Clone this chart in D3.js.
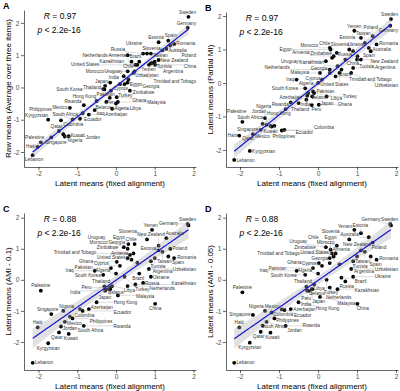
<!DOCTYPE html>
<html>
<head>
<meta charset="utf-8">
<script src="https://cdnjs.cloudflare.com/ajax/libs/d3/7.8.5/d3.min.js"></script>
<style>
body { margin: 0; background: #fff; }
svg { font-family: Arial, "Liberation Sans", sans-serif; }
</style>
</head>
<body>
<svg id="chart" width="400" height="391"></svg>
<script>
// ---------------------------------------------
// data: one entry per country
// ---------------------------------------------
var countries = ["Lebanon","Haiti","Palestine","Kyrgyzstan","Singapore","Qatar","South Africa","Nigeria","Jordan","Kuwait",
  "Mexico","Philippines","Colombia","Ecuador","Rwanda","Azerbaijan","Iraq","Hong Kong","South Korea","Thailand",
  "India","Belarus","Peru","Japan","Pakistan","Libya","Ghana","Algeria","Malaysia","Netherlands",
  "Cyprus","Uruguay","Turkey","Georgia","Egypt","Morocco","Zimbabwe","Armenia","Chile","Trinidad and Tobago",
  "Kazakhstan","United States","Brazil","Russia","Uzbekistan","Slovenia","Ukraine","Argentina","Yemen","Tunisia",
  "China","Estonia","New Zealand","Taiwan","Australia","Spain","Poland","Romania","Germany","Sweden"];

var fixedMeans = [-2.15,-2.02,-1.94,-1.75,-1.67,-1.47,-1.42,-1.36,-1.32,-1.22,
  -1.19,-1.12,-0.93,-0.86,-0.83,-0.70,-0.55,-0.50,-0.33,-0.30,
  -0.28,-0.25,-0.16,-0.15,-0.13,-0.10,0.02,0.00,0.05,0.30,
  0.10,0.20,0.22,0.30,0.32,0.30,0.36,0.40,0.48,0.45,
  0.50,0.55,0.60,0.70,0.85,0.80,0.90,0.90,0.93,1.00,
  1.01,1.10,1.10,1.20,1.30,1.35,1.40,1.50,1.85,1.87];

var rawMeans = [-2.10,-1.84,-1.70,-1.00,-1.55,-1.35,-1.02,-1.45,-1.52,-1.51,
  -0.63,-0.99,-0.97,-0.80,-0.55,-0.84,-0.70,-0.42,-0.05,-0.06,
  0.05,-0.45,-0.32,0.15,-0.10,-0.66,-0.30,-0.50,-0.45,1.00,
  0.10,0.35,0.10,0.15,0.25,0.50,-0.10,0.80,0.50,0.45,
  0.70,0.70,0.80,1.05,0.70,1.05,1.05,0.75,0.75,0.80,
  0.70,1.40,0.85,1.15,1.20,1.45,1.30,1.35,1.85,2.19];

var partialMI = [-2.30,-1.57,-1.16,-2.03,-1.53,-1.40,-1.22,-1.05,-1.25,-1.28,
  -1.30,-1.28,-1.42,-1.40,-0.78,-0.58,0.10,-0.60,-0.16,-0.50,
  -0.38,-0.30,-0.66,-0.40,-0.25,-0.30,-0.65,0.00,0.30,0.40,
  0.10,0.65,-0.40,0.30,1.00,1.05,0.75,0.80,0.90,0.20,
  0.50,0.30,0.40,0.70,0.30,1.00,0.95,0.45,1.56,0.70,
  0.80,1.35,0.70,1.20,1.05,0.95,1.40,1.15,1.71,1.91];

var ami10 = [-2.67,-1.53,-0.35,-2.04,-1.10,-1.69,-1.50,-1.00,-1.35,-1.74,
  -1.18,-1.24,-0.94,-1.00,-1.48,-0.94,0.29,-0.72,0.16,-0.21,
  -0.35,-0.30,-0.25,-0.30,0.38,-0.20,0.58,0.20,-0.50,-0.20,
  0.45,1.05,0.10,1.00,1.15,0.70,0.80,0.65,1.15,0.85,
  -0.15,0.55,0.20,-0.10,0.35,1.30,0.10,0.60,1.61,0.70,
  -0.77,0.95,1.10,0.90,1.34,0.75,1.00,0.70,1.80,1.75];

var ami05 = [-2.67,-1.53,-0.40,-2.02,-1.13,-1.67,-1.47,-1.00,-1.35,-1.70,
  -1.05,-1.24,-0.95,-0.97,-1.48,-0.94,0.29,-0.72,0.16,-0.22,
  -0.35,-0.35,-0.30,-0.30,0.38,-0.15,0.54,0.20,-0.55,-0.25,
  0.45,1.05,0.00,0.54,0.97,0.70,0.85,0.75,1.10,0.85,
  -0.30,0.50,0.07,-0.05,0.35,1.30,0.10,0.60,1.61,0.75,
  -0.77,1.50,0.95,0.90,1.37,0.75,1.20,0.65,1.80,1.75];

var panelLetters = ["A","B","C","D"];
var yTitles = ["Raw means (Average over three items)","Latent means (Partial MI)","Latent means (AMI - 0.1)","Latent means (AMI - 0.05)"];
var rValues = ["0.97","0.97","0.88","0.88"];
var pText = "< 2.2e-16";
var tickValues = [-2,-1,0,1,2];
var xTitle = "Latent means (fixed alignment)";

// ---------------------------------------------
// layout of the four panels
// ---------------------------------------------
var panels = [
  {y: rawMeans,  left: 24,  right: 196, top: 10,  bottom: 167, xdom: [-2.374, 2.065], ydom: [-2.465, 2.40]},
  {y: partialMI, left: 226, right: 398, top: 12,  bottom: 167, xdom: [-2.36, 2.05],   ydom: [-2.51, 2.12]},
  {y: ami10,     left: 24,  right: 196, top: 213, bottom: 370, xdom: [-2.374, 2.065], ydom: [-2.9, 2.15]},
  {y: ami05,     left: 226, right: 398, top: 213, bottom: 370, xdom: [-2.36, 2.05],   ydom: [-2.9, 2.15]}
];

var svg = d3.select("#chart");
var labelSize = 4.7;

function clamp(v, a, b) { return Math.max(a, Math.min(b, v)); }

// ggrepel-like layout: boxes push each other apart, springs pull back to the point
function repel(labs, obst, b) {
  var n = labs.length, it, i, j;
  for (it = 0; it < 1500; it++) {
    var pull = it < 1000 ? 0.004 : 0.002;
    labs.forEach(function(a) { a.fx = (a.px - a.x) * pull; a.fy = (a.py - a.y) * pull; });
    for (i = 0; i < n; i++) {
      var a = labs[i];
      for (j = i + 1; j < n; j++) {
        var c = labs[j];
        var dx = c.x - a.x, dy = c.y - a.y;
        var ox = (a.w + c.w) / 2 + 1 - Math.abs(dx);
        var oy = (a.h + c.h) / 2 + 0.6 - Math.abs(dy);
        if (ox > 0 && oy > 0) {
          var sx = dx === 0 ? (i % 2 ? 1 : -1) : (dx > 0 ? 1 : -1);
          var sy = dy === 0 ? (j % 2 ? 1 : -1) : (dy > 0 ? 1 : -1);
          if (ox / (a.w + c.w) < oy / (a.h + c.h)) {
            a.fx -= sx * ox * 0.3; c.fx += sx * ox * 0.3;
          } else {
            a.fy -= sy * oy * 0.3; c.fy += sy * oy * 0.3;
            a.fx -= sx * 0.15; c.fx += sx * 0.15;
          }
        }
      }
      for (j = 0; j < obst.length; j++) {
        var o = obst[j];
        var ddx = a.x - o.x, ddy = a.y - o.y;
        var qx = (a.w + o.w) / 2 - Math.abs(ddx);
        var qy = (a.h + o.h) / 2 - Math.abs(ddy);
        if (qx > 0 && qy > 0) {
          if (qx / (a.w + o.w) < qy / (a.h + o.h)) a.fx += (ddx >= 0 ? 1 : -1) * qx * 0.4;
          else a.fy += (ddy >= 0 ? 1 : -1) * qy * 0.4;
        }
      }
    }
    labs.forEach(function(a) {
      a.x = clamp(a.x + clamp(a.fx, -2, 2), b.left + a.w / 2 + 1, b.right - a.w / 2);
      a.y = clamp(a.y + clamp(a.fy, -2, 2), b.top + a.h / 2, b.bottom - a.h / 2 - 1);
    });
  }
}

panels.forEach(function(P, pi) {
  var x = d3.scaleLinear().domain(P.xdom).range([P.left, P.right]);
  var y = d3.scaleLinear().domain(P.ydom).range([P.bottom, P.top]);
  var g = svg.append("g");

  // regression + 95% band
  var n = fixedMeans.length;
  var mx = d3.mean(fixedMeans), my = d3.mean(P.y);
  var sxx = d3.sum(fixedMeans, function(v) { return (v - mx) * (v - mx); });
  var sxy = d3.sum(fixedMeans, function(v, i) { return (v - mx) * (P.y[i] - my); });
  var slope = sxy / sxx, icpt = my - slope * mx;
  var sse = d3.sum(fixedMeans, function(v, i) { var r = P.y[i] - (icpt + slope * v); return r * r; });
  var s = Math.sqrt(sse / (n - 2));
  var ext = d3.extent(fixedMeans);
  var grid = d3.range(0, 81).map(function(i) { return ext[0] + (ext[1] - ext[0]) * i / 80; });
  var fit = grid.map(function(v) {
    var se = s * Math.sqrt(1 / n + (v - mx) * (v - mx) / sxx);
    var f = icpt + slope * v;
    return {x: v, f: f, lo: f - 2.0 * se, hi: f + 2.0 * se};
  });

  // points
  g.selectAll("circle").data(fixedMeans).enter().append("circle")
    .attr("cx", function(d) { return x(d); })
    .attr("cy", function(d, i) { return y(P.y[i]); })
    .attr("r", 1.9)
    .attr("fill", "black");

  g.append("path").datum(fit)
    .attr("d", d3.area().x(function(d) { return x(d.x); }).y0(function(d) { return y(d.lo); }).y1(function(d) { return y(d.hi); }))
    .attr("fill", "#aaa").attr("fill-opacity", 0.35);
  g.append("path").datum(fit)
    .attr("d", d3.line().x(function(d) { return x(d.x); }).y(function(d) { return y(d.f); }))
    .attr("fill", "none").attr("stroke", "#1515d0").attr("stroke-width", 1.2);

  // labels
  var pts = fixedMeans.map(function(d, i) { return [x(d), y(P.y[i])]; });
  var obst = pts.map(function(p) { return {x: p[0], y: p[1], w: 4.6, h: 4.6}; });
  var cxr = P.left + 36;
  obst.push({x: cxr, y: P.top + 13, w: 56, h: 30});

  var tg = g.append("g");
  var texts = tg.selectAll("text").data(countries).enter().append("text")
    .attr("font-size", labelSize).attr("fill", "#333")
    .attr("text-anchor", "middle").attr("dominant-baseline", "central")
    .text(function(d) { return d; });
  // start each label on the side of the fit line its point lies on
  var pxSlope = (y(icpt + slope) - y(icpt)) / (x(1) - x(0));
  var nrm = Math.sqrt(1 + pxSlope * pxSlope);
  var labs = [];
  texts.each(function(d, i) {
    var w = this.getComputedTextLength();
    var above = P.y[i] >= icpt + slope * fixedMeans[i];
    var dir = above ? -1 : 1;
    var ux = -pxSlope / nrm * dir * -1, uy = 1 / nrm * dir;
    var dist = 6 + (i % 3) * 3;
    labs.push({x: pts[i][0] + dir * (w / 2 + 2) + ux * dist * 0.3, y: pts[i][1] + uy * dist,
      w: w, h: labelSize * 1.05, px: pts[i][0], py: pts[i][1]});
  });
  repel(labs, obst, P);
  texts.attr("x", function(d, i) { return labs[i].x; }).attr("y", function(d, i) { return labs[i].y; });

  labs.forEach(function(a) {
    var cx = clamp(a.px, a.x - a.w / 2, a.x + a.w / 2);
    var cy = clamp(a.py, a.y - a.h / 2, a.y + a.h / 2);
    if (Math.hypot(cx - a.px, cy - a.py) > 2.6) {
      g.insert("line", "g")
        .attr("x1", a.px).attr("y1", a.py).attr("x2", cx).attr("y2", cy)
        .attr("stroke", "#9a9a9a").attr("stroke-width", 0.35);
    }
  });

  // axes
  var ax = g.append("g").attr("transform", "translate(0," + P.bottom + ")")
    .call(d3.axisBottom(x).tickValues(tickValues).tickSize(3).tickSizeOuter(0).tickPadding(1.5));
  var ay = g.append("g").attr("transform", "translate(" + P.left + ",0)")
    .call(d3.axisLeft(y).tickValues(tickValues).tickSize(3).tickSizeOuter(0).tickPadding(1.5));
  [ax, ay].forEach(function(a) {
    a.select(".domain").attr("stroke", "black").attr("stroke-width", 0.6);
    a.selectAll(".tick line").attr("stroke", "black").attr("stroke-width", 0.6);
    a.selectAll(".tick text").attr("fill", "#4d4d4d").attr("font-size", 6.6).attr("font-family", "Arial, 'Liberation Sans', sans-serif");
  });
  ax.selectAll(".tick text").text(function(d) { return d < 0 ? "-" + Math.abs(d) : d; });
  ay.selectAll(".tick text").text(function(d) { return d < 0 ? "-" + Math.abs(d) : d; });

  // titles
  g.append("text").attr("x", (P.left + P.right) / 2).attr("y", P.bottom + 19)
    .attr("text-anchor", "middle").attr("font-size", 8).attr("fill", "black").text(xTitle);
  g.append("text").attr("transform", "translate(" + (P.left - 13) + "," + ((P.top + P.bottom) / 2) + ")rotate(-90)")
    .attr("text-anchor", "middle").attr("font-size", 8).attr("fill", "black").text(yTitles[pi]);
  g.append("text").attr("x", P.left - 21).attr("y", P.top - 1)
    .attr("font-size", 9).attr("font-weight", "bold").text(panelLetters[pi]);

  // correlation annotation
  var t1 = g.append("text").attr("x", cxr).attr("y", P.top + 9).attr("text-anchor", "middle").attr("font-size", 8.5);
  t1.append("tspan").attr("font-style", "italic").text("R");
  t1.append("tspan").text(" = " + rValues[pi]);
  var t2 = g.append("text").attr("x", cxr - 1).attr("y", P.top + 23).attr("text-anchor", "middle").attr("font-size", 8.5);
  t2.append("tspan").attr("font-style", "italic").text("p");
  t2.append("tspan").text(" " + pText);
});
</script>
</body>
</html>
